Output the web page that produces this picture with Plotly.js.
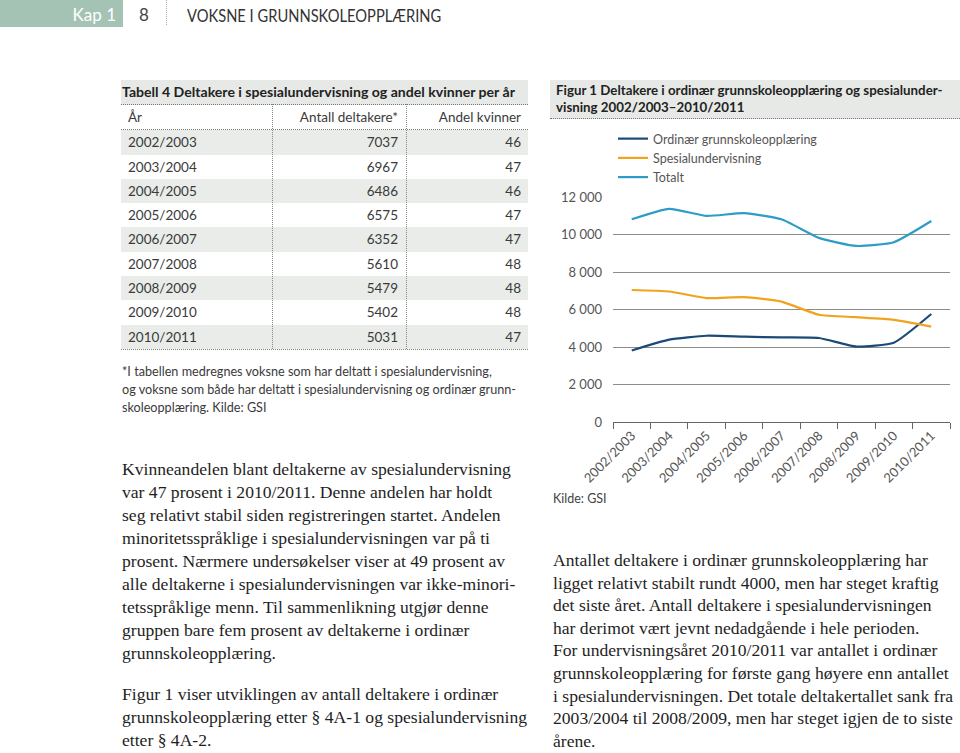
<!DOCTYPE html>
<html>
<head>
<meta charset="utf-8">
<script src="https://cdn.plot.ly/plotly-3.0.1.min.js"></script>
<style>
  html, body { margin:0; padding:0; background:#fff; }
  body { width:960px; height:753px; position:relative; overflow:hidden; font-family: Lato, "Open Sans", sans-serif; }
  .abs { position:absolute; white-space:nowrap; }
  .serif { font-family: "Liberation Serif", "DejaVu Serif", serif; font-size:17.6px; color:#1e1e1e; line-height:23px; }
  #tbl { position:absolute; left:121px; top:80px; width:407px; }
  .trow { position:relative; height:24.3px; font-size:13.5px; color:#3a3a3a; }
  .trow div { position:absolute; top:0; line-height:24.3px; }
</style>
</head>
<body>
<!-- header -->
<div class="abs" style="left:0;top:0;width:123px;height:27px;background:#a4c3b4;"></div>
<div class="abs" style="left:0;top:0;width:116px;height:27px;line-height:29px;text-align:right;color:#fff;font-size:17px;">Kap 1</div>
<div class="abs" style="left:139px;top:0;height:27px;line-height:29px;color:#444;font-size:17px;">8</div>
<div class="abs" style="left:166px;top:0;width:0;height:25px;border-left:1px dotted #aaa;"></div>
<div class="abs" style="left:187px;top:0;height:27px;line-height:32px;color:#333;font-size:17.5px;transform:scaleX(0.84);transform-origin:left center;" id="hdr">VOKSNE I GRUNNSKOLEOPPLÆRING</div>

<!-- table -->
<div id="tbl"></div>

<!-- note -->
<div class="abs" style="left:122px;top:363px;font-size:12.65px;line-height:18px;color:#3a3a3a;">*I tabellen medregnes voksne som har deltatt i spesialundervisning,<br>og voksne som både har deltatt i spesialundervisning og ordinær grunn-<br>skoleopplæring. Kilde: GSI</div>

<!-- left body text -->
<div class="abs serif" style="left:122px;top:458px;">Kvinneandelen blant deltakerne av spesialundervisning<br>var 47 prosent i 2010/2011. Denne andelen har holdt<br>seg relativt stabil siden registreringen startet. Andelen<br>minoritetsspråklige i spesialundervisningen var på ti<br>prosent. Nærmere undersøkelser viser at 49 prosent av<br>alle deltakerne i spesialundervisningen var ikke-minori-<br>tetsspråklige menn. Til sammenlikning utgjør denne<br>gruppen bare fem prosent av deltakerne i ordinær<br>grunnskoleopplæring.</div>
<div class="abs serif" style="left:122px;top:683px;">Figur 1 viser utviklingen av antall deltakere i ordinær<br>grunnskoleopplæring etter § 4A-1 og spesialundervisning<br>etter § 4A-2.</div>

<!-- chart title -->
<div class="abs" style="left:550px;top:80px;width:410px;height:38px;background:#e6e9e6;border-bottom:1px dotted #777;"></div>
<div class="abs" style="left:556px;top:82px;font-size:13.3px;font-weight:bold;color:#222;line-height:17px;">Figur 1 Deltakere i ordinær grunnskoleopplæring og spesialunder-<br>visning 2002/2003–2010/2011</div>

<div id="chart" class="abs" style="left:550px;top:120px;width:410px;height:400px;"></div>
<div class="abs" style="left:553px;top:491px;font-size:12.5px;color:#444;">Kilde: GSI</div>

<!-- right body text -->
<div class="abs serif" style="left:553px;top:549px;line-height:22.6px;">Antallet deltakere i ordinær grunnskoleopplæring har<br>ligget relativt stabilt rundt 4000, men har steget kraftig<br>det siste året. Antall deltakere i spesialundervisningen<br>har derimot vært jevnt nedadgående i hele perioden.<br>For undervisningsåret 2010/2011 var antallet i ordinær<br>grunnskoleopplæring for første gang høyere enn antallet<br>i spesialundervisningen. Det totale deltakertallet sank fra<br>2003/2004 til 2008/2009, men har steget igjen de to siste<br>årene.</div>

<script>
// ---- data ----
const years = ["2002/2003","2003/2004","2004/2005","2005/2006","2006/2007","2007/2008","2008/2009","2009/2010","2010/2011"];
const ordinaer = [3810, 4390, 4600, 4550, 4510, 4480, 4020, 4230, 5760];
const spesial  = [7040, 6960, 6610, 6660, 6420, 5720, 5590, 5450, 5090];
const totalt   = [10810, 11370, 10990, 11140, 10810, 9820, 9390, 9590, 10720];
const seriesNames = ["Ordinær grunnskoleopplæring", "Spesialundervisning", "Totalt"];
const tableAntall = [7037, 6967, 6486, 6575, 6352, 5610, 5479, 5402, 5031];
const tableAndel  = [46, 47, 46, 47, 47, 48, 48, 48, 47];
const tableHeaders = ["År", "Antall deltakere*", "Andel kvinner"];
const tableTitle = "Tabell 4 Deltakere i spesialundervisning og andel kvinner per år";

// ---- table ----
(function(){
  const t = document.getElementById('tbl');
  let h = '';
  h += '<div style="height:24px;background:#e6e9e6;border-bottom:1px dotted #777;font-weight:bold;font-size:14.1px;color:#222;line-height:24px;padding-left:1px;white-space:nowrap;">'+tableTitle+'</div>';
  h += '<div class="trow" style="border-bottom:1px dotted #777;">'
     + '<div style="left:7px;">'+tableHeaders[0]+'</div>'
     + '<div style="right:130px;">'+tableHeaders[1]+'</div>'
     + '<div style="right:7px;">'+tableHeaders[2]+'</div></div>';
  for (let i=0;i<years.length;i++){
    const bg = (i%2===0) ? '#e9ece9' : '#ffffff';
    h += '<div class="trow" style="background:'+bg+';">'
       + '<div style="left:7px;">'+years[i]+'</div>'
       + '<div style="right:130px;">'+tableAntall[i]+'</div>'
       + '<div style="right:7px;">'+tableAndel[i]+'</div></div>';
  }
  t.innerHTML = h;
  const sep1 = document.createElement('div');
  sep1.className='abs'; sep1.style.cssText='left:151px;top:24px;height:245px;border-left:1px dotted #888;';
  const sep2 = document.createElement('div');
  sep2.className='abs'; sep2.style.cssText='left:285px;top:24px;height:245px;border-left:1px dotted #888;';
  const bot = document.createElement('div');
  bot.className='abs'; bot.style.cssText='left:0;top:269px;width:407px;border-top:1px dotted #888;';
  t.appendChild(sep1); t.appendChild(sep2); t.appendChild(bot);
})();

// ---- chart ----
const colors = ["#1c4a78", "#f0a41e", "#2d9cc6"];
const ys = [ordinaer, spesial, totalt];
const traces = ys.map((y, k) => ({
  type: 'scatter', mode: 'lines', x: years, y: y, name: seriesNames[k],
  line: {color: colors[k], width: 2.2, shape: 'spline', smoothing: 0.5},
  hoverinfo: 'skip'
}));

const layout = {
  width: 410, height: 400,
  margin: {l: 63, r: 10, t: 77, b: 98},
  paper_bgcolor: 'rgba(0,0,0,0)', plot_bgcolor: 'rgba(0,0,0,0)',
  separators: ', ',
  font: {family: 'Lato, "Open Sans", sans-serif', size: 13, color: '#555'},
  showlegend: true,
  legend: {
    x: 0, xanchor: 'left', xref: 'paper',
    y: 0.99, yanchor: 'top', yref: 'container',
    font: {size: 12.5, color: '#555'},
    bgcolor: 'rgba(0,0,0,0)', itemwidth: 30, tracegroupgap: 0
  },
  xaxis: {
    type: 'category', range: [-0.5, 8.5],
    showgrid: false, zeroline: false,
    showline: true, linecolor: '#666', linewidth: 1,
    ticks: 'outside', ticklen: 6, tickcolor: '#666', tickson: 'boundaries',
    tickangle: -45, tickfont: {size: 13, color: '#555'}, fixedrange: true
  },
  yaxis: {
    range: [0, 12000], tickvals: [0, 2000, 4000, 6000, 8000, 10000, 12000],
    tickformat: ',d', showgrid: true, gridcolor: '#8c8c8c', gridwidth: 1,
    zeroline: false, showline: false, ticks: '',
    ticklabelstandoff: 10,
    tickfont: {size: 13, color: '#555'}, fixedrange: true
  }
};
Plotly.newPlot('chart', traces, layout, {displayModeBar: false, staticPlot: true});
</script>
</body>
</html>
